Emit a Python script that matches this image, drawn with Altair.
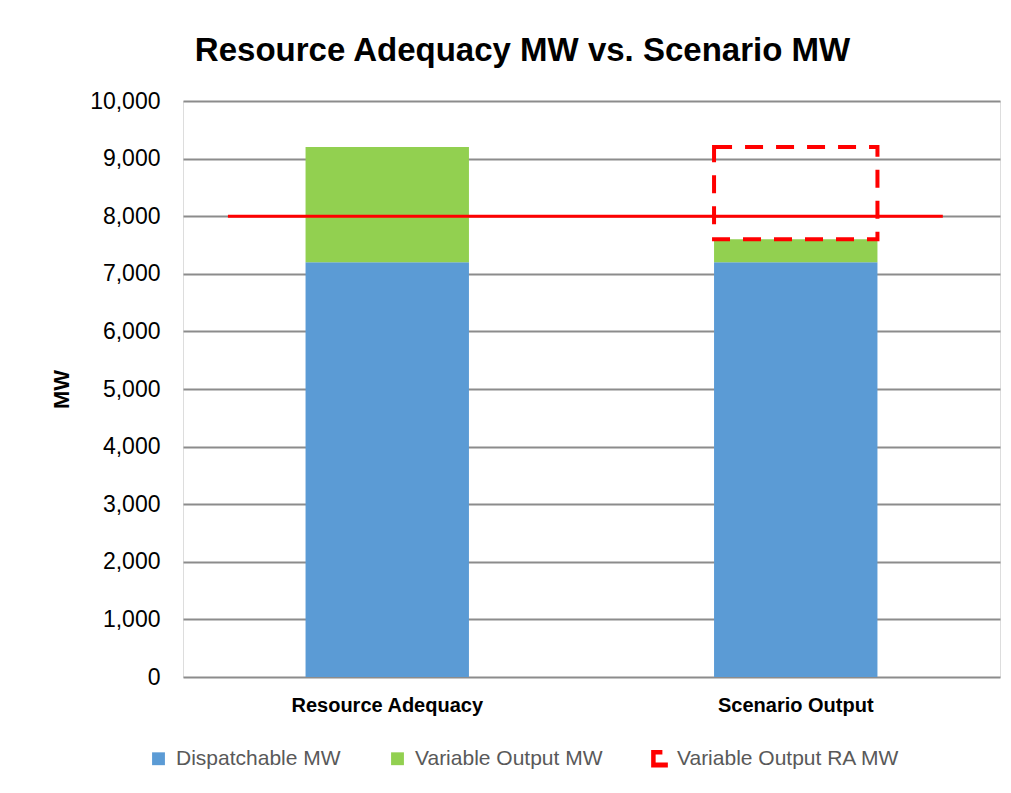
import altair as alt
import pandas as pd

# ---- data ----
categories = ["Resource Adequacy", "Scenario Output"]
dispatchable_mw = [7200, 7200]
variable_output_mw = [2000, 400]
variable_output_ra_mw = [0, 1600]          # dashed box stacked on top of the Scenario Output bar
series_names = ["Dispatchable MW", "Variable Output MW", "Variable Output RA MW"]
series_colors = ["#5B9BD5", "#92D050", "#FF0000"]
ra_line_mw = [8000, 8000]                  # RA requirement line
ra_line_pos = [0.11, 1.86]                 # extent of the line along the category axis (band units)
y_ticks = [0, 1000, 2000, 3000, 4000, 5000, 6000, 7000, 8000, 9000, 10000]

# ---- tables built from the arrays ----
bar_rows = []
box_rows = []
for cat, d, v, r in zip(categories, dispatchable_mw, variable_output_mw, variable_output_ra_mw):
    bar_rows.append({"category": cat, "series": series_names[0], "start": 0, "end": d})
    bar_rows.append({"category": cat, "series": series_names[1], "start": d, "end": d + v})
    if r:
        box_rows.append({"category": cat, "series": series_names[2], "start": d + v, "end": d + v + r})
bar_df = pd.DataFrame(bar_rows)
box_df = pd.DataFrame(box_rows)
legend_df = pd.DataFrame({"series": series_names, "category": categories[0], "v": 0})
line_df = pd.DataFrame({"pos": ra_line_pos, "mw": ra_line_mw})

FONT = "Liberation Sans"

x_scale = alt.Scale(domain=categories, paddingInner=0.6, paddingOuter=0.3)
y_scale = alt.Scale(domain=[0, 10000], nice=False)
color_scale = alt.Scale(domain=series_names, range=series_colors)
bracket = "M-1.3,-1.35 H0.45 V-0.65 H-0.6 V0.6 H1.3 V1.35 H-1.3 Z"
shape_scale = alt.Scale(domain=series_names, range=["square", "square", bracket])

legend_def = alt.Legend(
    title=None, orient="none", direction="horizontal", legendX=-35, legendY=647,
    labelFont=FONT, labelFontSize=21, labelColor="#595959", labelLimit=400,
    symbolSize=165, symbolStrokeWidth=0, symbolOpacity=1, labelOffset=7,
    columnPadding=46,
)

y_axis = alt.Axis(
    values=y_ticks, format=",d", title="MW", grid=True, gridColor="#8C8C8C", gridWidth=2,
    domain=False, ticks=False, labelPadding=23, labelFont=FONT, labelFontSize=23,
    labelColor="#000000", titleFont=FONT, titleFontSize=22, titleFontWeight="bold",
    titleColor="#000000", titlePadding=16,
)
x_axis = alt.Axis(
    title=None, labelAngle=0, domain=False, ticks=False, labelPadding=18, labelLimit=400,
    labelFont=FONT, labelFontSize=20, labelFontWeight="bold", labelColor="#000000",
)

bars = alt.Chart(bar_df).mark_bar().encode(
    x=alt.X("category:N", scale=x_scale, axis=x_axis, sort=categories),
    y=alt.Y("start:Q", scale=y_scale, axis=y_axis),
    y2="end:Q",
    color=alt.Color("series:N", scale=color_scale, legend=legend_def),
)

box = alt.Chart(box_df).mark_bar(
    fill="transparent", stroke="#FF0000", strokeWidth=4, strokeDash=[18, 13]
).encode(
    x=alt.X("category:N", scale=x_scale, axis=x_axis, sort=categories),
    y=alt.Y("start:Q", scale=y_scale, axis=y_axis),
    y2="end:Q",
)

legend_pts = alt.Chart(legend_df).mark_point(filled=True, opacity=0).encode(
    x=alt.X("category:N", scale=x_scale, axis=x_axis, sort=categories),
    y=alt.Y("v:Q", scale=y_scale, axis=y_axis),
    color=alt.Color("series:N", scale=color_scale, legend=legend_def),
    shape=alt.Shape("series:N", scale=shape_scale, legend=legend_def),
)

line = alt.Chart(line_df).mark_line(color="#FF0000", strokeWidth=3).encode(
    x=alt.X("pos:Q", scale=alt.Scale(domain=[0, 2], nice=False), axis=None),
    y=alt.Y("mw:Q", scale=y_scale, axis=y_axis),
)

chart = alt.layer(
    alt.layer(bars, box, legend_pts), line
).resolve_scale(x="independent").properties(
    width=817, height=576,
    autosize=alt.AutoSizeParams(type="none"),
    padding={"left": 175, "top": 93, "right": 3, "bottom": 100},
    title=alt.TitleParams(
        "Resource Adequacy MW vs. Scenario MW", font=FONT, fontSize=33, fontWeight="bold",
        color="#000000", anchor="middle", dx=-69, offset=22,
    ),
).configure_view(stroke=None).configure(background="white")

chart.save("out.html", embed_options={"renderer": "svg", "actions": False})
